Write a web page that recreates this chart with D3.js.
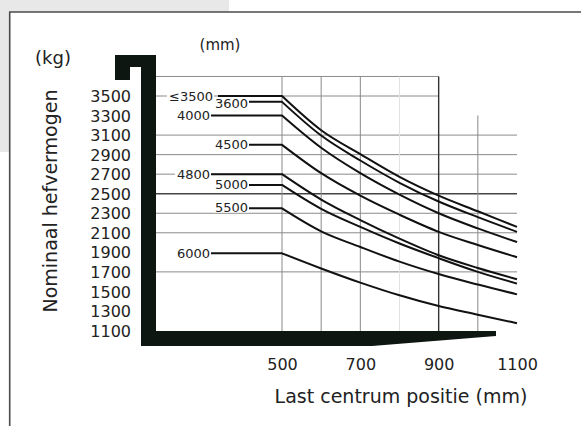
<!DOCTYPE html>
<html><head><meta charset="utf-8">
<script src="https://cdn.jsdelivr.net/npm/d3@7"></script>
<style>
html,body{margin:0;padding:0;background:#fff;}
svg{display:block;font-family:"DejaVu Sans",sans-serif;}
</style></head><body>
<svg id="chart" width="581" height="426"></svg>
<script>
// ---- data ----
const loadCenters = [500, 600, 700, 800, 900, 1000, 1100];
const mastLabels = ["≤3500", "3600", "4000", "4500", "4800", "5000", "5500", "6000"];
const cap3500 = [3500, 3150, 2905, 2672, 2480, 2320, 2160];
const cap3600 = [3440, 3095, 2840, 2612, 2420, 2260, 2110];
const cap4000 = [3300, 2970, 2710, 2490, 2300, 2145, 2005];
const cap4500 = [3000, 2710, 2480, 2285, 2110, 1975, 1850];
const cap4800 = [2700, 2440, 2230, 2040, 1870, 1740, 1625];
const cap5000 = [2590, 2345, 2160, 1990, 1840, 1700, 1580];
const cap5500 = [2350, 2115, 1955, 1805, 1678, 1570, 1470];
const cap6000 = [1890, 1735, 1590, 1460, 1350, 1262, 1175];
const yTickValues = [3500, 3300, 3100, 2900, 2700, 2500, 2300, 2100, 1900, 1700, 1500, 1300, 1100];
const xTickValues = [500, 700, 900, 1100];
const gridFull = [3100, 2900, 2700, 2500, 2300, 2100, 1700];
const gridShort = [3700, 3500];
const gridVertical = [500, 600, 700, 900];
const gridVerticalShort = [1000];

const seriesValues = [cap3500, cap3600, cap4000, cap4500, cap4800, cap5000, cap5500, cap6000];

// ---- layout (pixels) ----
const leaderStartPx = [218, 249, 211, 249, 211, 249, 249, 211];
const labelEndPx    = [213, 248, 210, 248, 210, 248, 248, 210];
const labelDy       = [0.5, 2, 0, 0, 0.5, 0, -1, 0];

const svg = d3.select("#chart");
const W = 581, H = 426;
const ink = "#222";

const x = d3.scaleLinear().domain([500, 1100]).range([282, 517]);
const y = d3.scaleLinear().domain([1100, 3500]).range([330.5, 96]);

// background panels
svg.append("rect").attr("x", 0).attr("y", 0).attr("width", 229).attr("height", 152).attr("fill", "#e8e8e8");
svg.append("rect").attr("x", 9.5).attr("y", 12).attr("width", W).attr("height", H).attr("fill", "#fff");
svg.append("line").attr("x1", 9).attr("x2", W).attr("y1", 12).attr("y2", 12).attr("stroke", "#4a4a4a").attr("stroke-width", 1.6);
svg.append("line").attr("x1", 9.7).attr("x2", 9.7).attr("y1", 12).attr("y2", H).attr("stroke", "#4a4a4a").attr("stroke-width", 1.6);

const gridG = svg.append("g");
const gridLeft = 156;
gridFull.forEach(v => {
  const dark = v === 2500;
  gridG.append("line").attr("x1", gridLeft).attr("x2", x(1100))
    .attr("y1", y(v)).attr("y2", y(v))
    .attr("stroke", dark ? "#444" : "#8a8a8a").attr("stroke-width", dark ? 1.5 : 1);
});
gridShort.forEach(v => {
  gridG.append("line").attr("x1", gridLeft).attr("x2", x(900))
    .attr("y1", y(v)).attr("y2", y(v))
    .attr("stroke", "#8a8a8a").attr("stroke-width", 1);
});
gridVertical.forEach(v => {
  const dark = v === 900;
  gridG.append("line").attr("x1", x(v)).attr("x2", x(v))
    .attr("y1", y(3700)).attr("y2", 331)
    .attr("stroke", dark ? "#333" : "#8a8a8a").attr("stroke-width", dark ? 1.4 : 1);
});
gridVerticalShort.forEach(v => {
  gridG.append("line").attr("x1", x(v)).attr("x2", x(v))
    .attr("y1", y(3300)).attr("y2", 331)
    .attr("stroke", "#8a8a8a").attr("stroke-width", 1);
});
// faint 800 line
gridG.append("line").attr("x1", x(800)).attr("x2", x(800))
  .attr("y1", y(3700)).attr("y2", 331)
  .attr("stroke", "#e2e2e2").attr("stroke-width", 1);

// black frame (fork shape)
const frame = [[115,55],[156,55],[156,331],[496,331],[496,336],[372,346],[141,346],[141,67],[130,67],[130,80],[115,80]];
svg.append("path").attr("d", d3.line()(frame) + "Z").attr("fill", "#0e1612");

// curves
const line = d3.line().x(d => x(d[0])).y(d => y(d[1])).curve(d3.curveMonotoneX);
const curveG = svg.append("g");
const labelG = svg.append("g").attr("font-size", 13).attr("fill", ink);
seriesValues.forEach((vals, i) => {
  const pts = loadCenters.map((c, j) => [c, vals[j]]);
  const y0 = y(vals[0]);
  const d = `M${leaderStartPx[i]},${y0}` + line(pts).replace(/^M/, "L");
  curveG.append("path").attr("d", d).attr("fill", "none")
    .attr("stroke", "#111").attr("stroke-width", 2).attr("stroke-linejoin", "round");
  const t = labelG.append("text").attr("x", labelEndPx[i]).attr("y", y0 + labelDy[i])
    .attr("text-anchor", "end").attr("dominant-baseline", "central").text(mastLabels[i]);
  const bb = t.node().getBBox();
  labelG.insert("rect", "text").attr("x", bb.x - 2).attr("y", y0 + labelDy[i] - 5)
    .attr("width", bb.width + 3).attr("height", 10).attr("fill", "#fff");
});

// axes
const yAxis = d3.axisLeft(y).tickValues(yTickValues).tickSize(0).tickPadding(0).tickFormat(d3.format("d"));
const yg = svg.append("g").attr("transform", "translate(131,0.5)").call(yAxis);
yg.select(".domain").remove();
yg.selectAll("text").attr("font-size", 16).attr("font-family", "DejaVu Sans").attr("fill", ink);

const xAxis = d3.axisBottom(x).tickValues(xTickValues).tickSize(0).tickPadding(0).tickFormat(d3.format("d"));
const xg = svg.append("g").attr("transform", "translate(0,359)").call(xAxis);
xg.select(".domain").remove();
xg.selectAll("text").attr("font-size", 16).attr("font-family", "DejaVu Sans").attr("fill", ink);

// titles
svg.append("text").attr("x", 401).attr("y", 403).attr("text-anchor", "middle")
  .attr("font-size", 19).attr("fill", ink).text("Last centrum positie (mm)");
svg.append("text").attr("transform", "translate(57,201) rotate(-90)").attr("text-anchor", "middle")
  .attr("font-size", 19).attr("fill", ink).text("Nominaal hefvermogen");
svg.append("text").attr("x", 53).attr("y", 64).attr("text-anchor", "middle")
  .attr("font-size", 18).attr("fill", ink).text("(kg)");
svg.append("text").attr("x", 220).attr("y", 50).attr("text-anchor", "middle")
  .attr("font-size", 15).attr("fill", ink).text("(mm)");
</script>
</body></html>
